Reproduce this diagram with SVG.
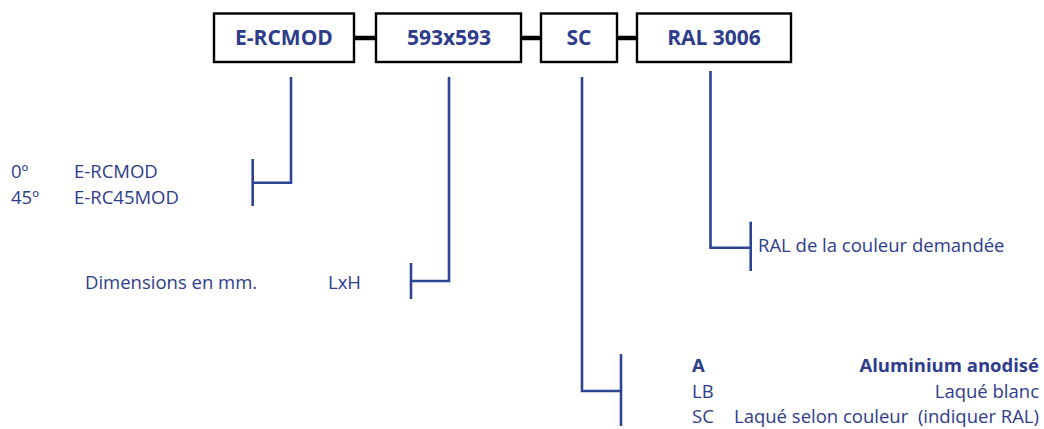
<svg xmlns="http://www.w3.org/2000/svg" width="1044" height="429" viewBox="0 0 1044 429">
<style>
.box{fill:#fff;stroke:#000;stroke-width:2.4}
.dash{stroke:#000;stroke-width:4.5}
.ln{fill:none;stroke:#2C4592;stroke-width:2.6}
.bt{font-family:"Open Sans","Noto Sans",sans-serif;font-weight:bold;font-size:21px;fill:#2E3C8C;text-anchor:middle}
.t{font-family:"Open Sans","Noto Sans",sans-serif;font-size:18.5px;fill:#2E3C8C;white-space:pre}
.tb{font-family:"Open Sans","Noto Sans",sans-serif;font-size:18.5px;font-weight:bold;fill:#2E3C8C}
.e{text-anchor:end}
</style>
<rect width="1044" height="429" fill="#fff"/>
<g id="connectors">
<line class="dash" x1="354" y1="38" x2="376" y2="38"/>
<line class="dash" x1="521" y1="38" x2="541" y2="38"/>
<line class="dash" x1="617" y1="38" x2="637" y2="38"/>
<polyline class="ln" points="291,77 291,182.7 252.7,182.7"/>
<line class="ln" x1="252.7" y1="159" x2="252.7" y2="206"/>
<polyline class="ln" points="449,77 449,281 411,281"/>
<line class="ln" x1="411" y1="263" x2="411" y2="299"/>
<polyline class="ln" points="582,77 582,391 621,391"/>
<line class="ln" x1="621" y1="354" x2="621" y2="426"/>
<polyline class="ln" points="710.5,71 710.5,247.7 750.7,247.7"/>
<line class="ln" x1="750.7" y1="221.7" x2="750.7" y2="271"/>
</g>
<g id="box-model">
<rect class="box" x="214" y="13.5" width="140" height="48.5"/>
<text class="bt" x="284" y="45">E-RCMOD</text>
</g>
<g id="box-dimensions">
<rect class="box" x="376" y="13.5" width="145" height="48.5"/>
<text class="bt" x="449" y="45">593x593</text>
</g>
<g id="box-finish">
<rect class="box" x="541" y="13.5" width="76" height="48.5"/>
<text class="bt" x="579" y="45">SC</text>
</g>
<g id="box-ral">
<rect class="box" x="637" y="13.5" width="154" height="48.5"/>
<text class="bt" x="714" y="45">RAL 3006</text>
</g>
<g id="legend-model">
<text class="t" x="11" y="178">0º</text>
<text class="t" x="74" y="178">E-RCMOD</text>
<text class="t" x="11" y="203.5">45º</text>
<text class="t" x="74" y="203.5">E-RC45MOD</text>
</g>
<g id="legend-dimensions">
<text class="t" x="85" y="289">Dimensions en mm.</text>
<text class="t" x="328" y="289">LxH</text>
</g>
<g id="legend-ral">
<text class="t" x="758" y="252">RAL de la couleur demandée</text>
</g>
<g id="legend-finish">
<text class="tb" x="692" y="372">A</text>
<text class="tb e" x="1039" y="372">Aluminium anodisé</text>
<text class="t" x="692" y="397.5">LB</text>
<text class="t e" x="1039" y="397.5">Laqué blanc</text>
<text class="t" x="692" y="423">SC</text>
<text class="t e" x="1039" y="423" xml:space="preserve">Laqué selon couleur  (indiquer RAL)</text>
</g>
</svg>
